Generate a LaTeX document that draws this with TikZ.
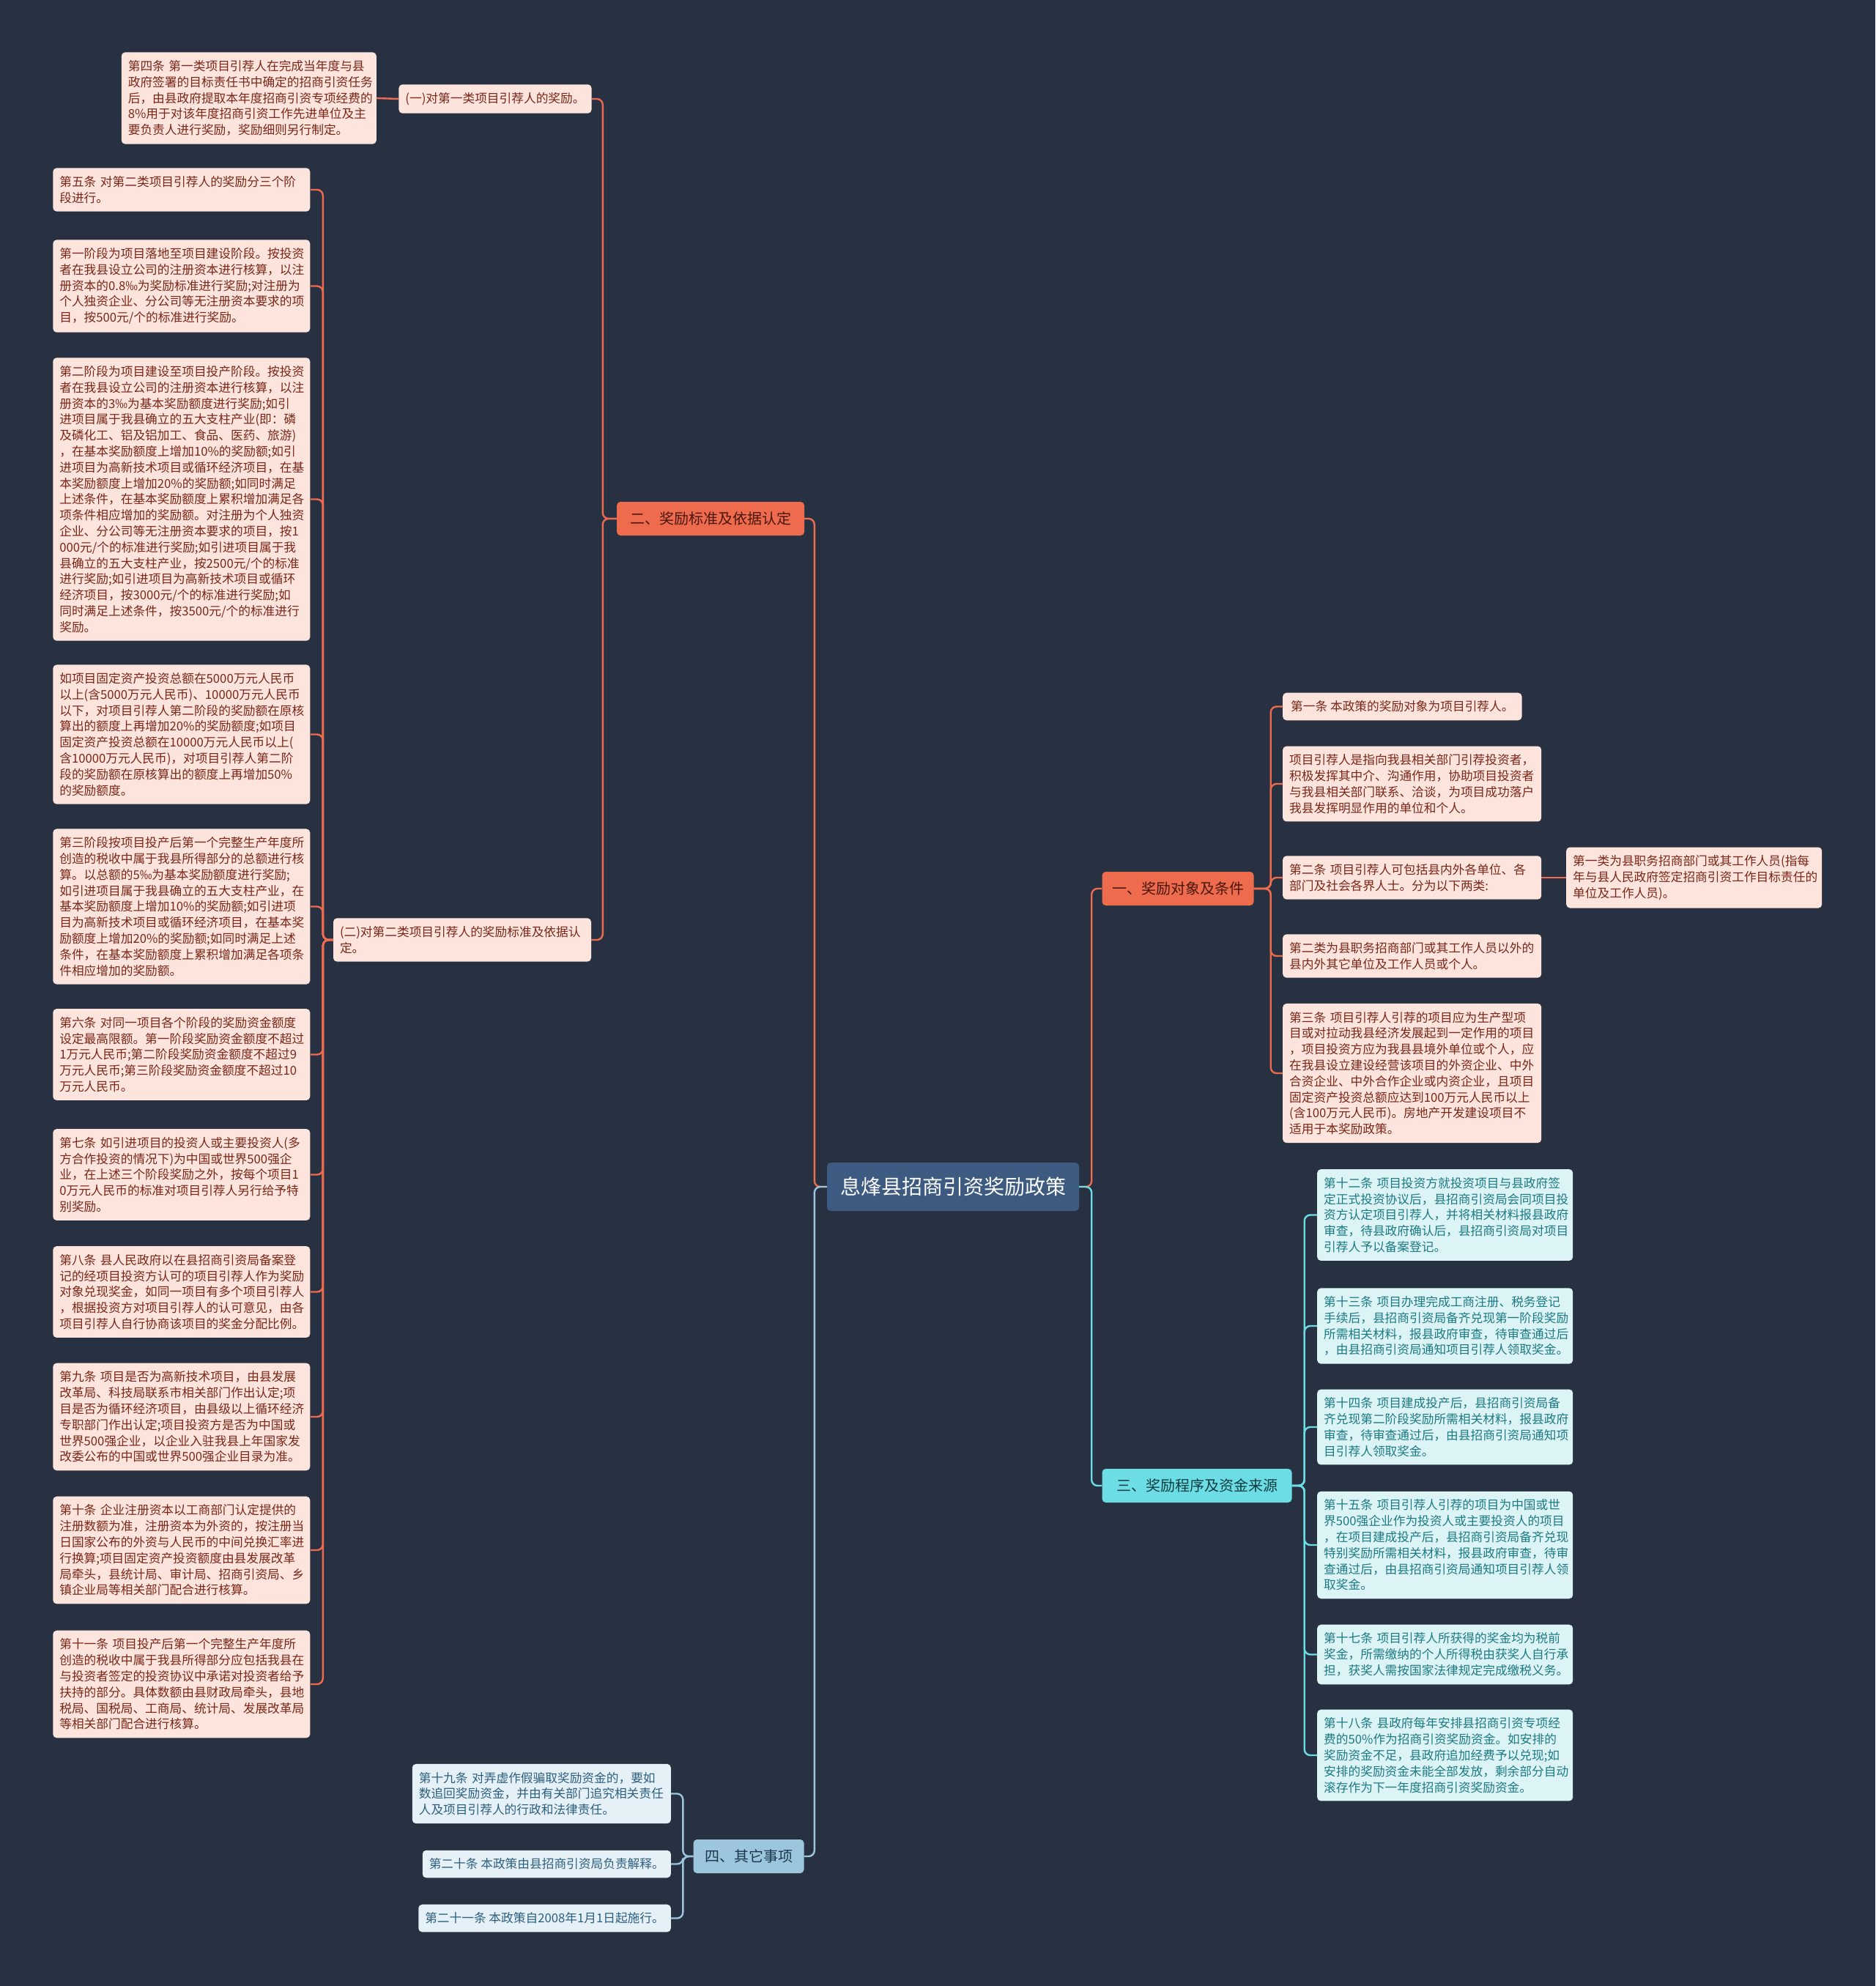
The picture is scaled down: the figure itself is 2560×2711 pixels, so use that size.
\documentclass[tikz,border=0pt]{standalone}
\usepackage{fontspec}
\setmainfont{Noto Sans CJK SC}
\definecolor{zsBg}{HTML}{283142}
\definecolor{zsRoot}{HTML}{3D5A80}
\definecolor{zsOrange}{HTML}{EE6B4D}
\definecolor{zsCyan}{HTML}{6CDDE5}
\definecolor{zsBlue}{HTML}{9CC5DE}
\definecolor{zsLeafO}{HTML}{FDE4DD}
\definecolor{zsLeafC}{HTML}{DDF4F6}
\definecolor{zsLeafB}{HTML}{E6F1F7}
\definecolor{zsTxtO}{HTML}{7A2618}
\definecolor{zsTxtC}{HTML}{1B7A82}
\definecolor{zsTxtB}{HTML}{2C5F7E}
\begin{document}
\begin{tikzpicture}[x=1pt, y=-1pt,
  every node/.style={font=\fontsize{16.7}{21.8}\selectfont},
  leaf/.style={rounded corners=5pt, inner xsep=9pt, inner ysep=11pt, align=left},
  leafO/.style={leaf, fill=zsLeafO, text=zsTxtO},
  leafC/.style={leaf, fill=zsLeafC, text=zsTxtC},
  leafB/.style={leaf, fill=zsLeafB, text=zsTxtB},
  leafL/.style={leafO, text width=333pt, anchor=east},
  branch/.style={rounded corners=5pt, minimum height=46pt, inner xsep=0pt, font=\fontsize{20}{24}\selectfont},
  link/.style={line width=2.4pt, rounded corners=8pt}
]
  \useasboundingbox (0,0) rectangle (2560,2711);
  \fill[zsBg] (0,0) rectangle (2560,2711);

  % root and main branches
  \node[fill=zsRoot, text=white, rounded corners=5pt, minimum width=344pt, minimum height=66pt,
        font=\fontsize{28}{34}\selectfont] (root) at (1301,1620) {息烽县招商引资奖励政策};
  \node[branch, fill=zsOrange, text=zsTxtO!60!black, minimum width=256pt] (b2) at (970,708) {二、奖励标准及依据认定};
  \node[branch, fill=zsOrange, text=zsTxtO!60!black, minimum width=207pt] (b1) at (1608,1213) {一、奖励对象及条件};
  \node[branch, fill=zsCyan, text=zsTxtC!50!black, minimum width=259pt] (b3) at (1634,2028) {三、奖励程序及资金来源};
  \node[branch, fill=zsBlue, text=zsTxtB!60!black, minimum width=151pt] (b4) at (1022,2534) {四、其它事项};

  % branch two
  \node[leafO] (s1) at (676,135) {(一)对第一类项目引荐人的奖励。};
  \node[leafO, text width=330pt, anchor=east] (r4) at (514,134)
    {第四条 第一类项目引荐人在完成当年度与县\\政府签署的目标责任书中确定的招商引资任务\\后，由县政府提取本年度招商引资专项经费的\\8\%用于对该年度招商引资工作先进单位及主\\要负责人进行奖励，奖励细则另行制定。};
  \node[leafO, text width=334pt] (s2) at (631,1283)
    {(二)对第二类项目引荐人的奖励标准及依据认\\定。};

  \node[leafL] (l1) at (423.5,259) {第五条 对第二类项目引荐人的奖励分三个阶\\段进行。};
  \node[leafL] (l2) at (423.5,390.5)
    {第一阶段为项目落地至项目建设阶段。按投资\\者在我县设立公司的注册资本进行核算，以注\\册资本的0.8‰为奖励标准进行奖励;对注册为\\个人独资企业、分公司等无注册资本要求的项\\目，按500元/个的标准进行奖励。};
  \node[leafL] (l3) at (423.5,681.5)
    {第二阶段为项目建设至项目投产阶段。按投资\\者在我县设立公司的注册资本进行核算，以注\\册资本的3‰为基本奖励额度进行奖励;如引\\进项目属于我县确立的五大支柱产业(即：磷\\及磷化工、铝及铝加工、食品、医药、旅游)\\，在基本奖励额度上增加10\%的奖励额;如引\\进项目为高新技术项目或循环经济项目，在基\\本奖励额度上增加20\%的奖励额;如同时满足\\上述条件，在基本奖励额度上累积增加满足各\\项条件相应增加的奖励额。对注册为个人独资\\企业、分公司等无注册资本要求的项目，按1\\000元/个的标准进行奖励;如引进项目属于我\\县确立的五大支柱产业，按2500元/个的标准\\进行奖励;如引进项目为高新技术项目或循环\\经济项目，按3000元/个的标准进行奖励;如\\同时满足上述条件，按3500元/个的标准进行\\奖励。};
  \node[leafL] (l4) at (423.5,1002.5)
    {如项目固定资产投资总额在5000万元人民币\\以上(含5000万元人民币)、10000万元人民币\\以下，对项目引荐人第二阶段的奖励额在原核\\算出的额度上再增加20\%的奖励额度;如项目\\固定资产投资总额在10000万元人民币以上(\\含10000万元人民币)，对项目引荐人第二阶\\段的奖励额在原核算出的额度上再增加50\%\\的奖励额度。};
  \node[leafL] (l5) at (423.5,1237.5)
    {第三阶段按项目投产后第一个完整生产年度所\\创造的税收中属于我县所得部分的总额进行核\\算。以总额的5‰为基本奖励额度进行奖励;\\如引进项目属于我县确立的五大支柱产业，在\\基本奖励额度上增加10\%的奖励额;如引进项\\目为高新技术项目或循环经济项目，在基本奖\\励额度上增加20\%的奖励额;如同时满足上述\\条件，在基本奖励额度上累积增加满足各项条\\件相应增加的奖励额。};
  \node[leafL] (l6) at (423.5,1439.5)
    {第六条 对同一项目各个阶段的奖励资金额度\\设定最高限额。第一阶段奖励资金额度不超过\\1万元人民币;第二阶段奖励资金额度不超过9\\万元人民币;第三阶段奖励资金额度不超过10\\万元人民币。};
  \node[leafL] (l7) at (423.5,1603.5)
    {第七条 如引进项目的投资人或主要投资人(多\\方合作投资的情况下)为中国或世界500强企\\业，在上述三个阶段奖励之外，按每个项目1\\0万元人民币的标准对项目引荐人另行给予特\\别奖励。};
  \node[leafL] (l8) at (423.5,1763.5)
    {第八条 县人民政府以在县招商引资局备案登\\记的经项目投资方认可的项目引荐人作为奖励\\对象兑现奖金，如同一项目有多个项目引荐人\\，根据投资方对项目引荐人的认可意见，由各\\项目引荐人自行协商该项目的奖金分配比例。};
  \node[leafL] (l9) at (423.5,1934)
    {第九条 项目是否为高新技术项目，由县发展\\改革局、科技局联系市相关部门作出认定;项\\目是否为循环经济项目，由县级以上循环经济\\专职部门作出认定;项目投资方是否为中国或\\世界500强企业，以企业入驻我县上年国家发\\改委公布的中国或世界500强企业目录为准。};
  \node[leafL] (l10) at (423.5,2116)
    {第十条 企业注册资本以工商部门认定提供的\\注册数额为准，注册资本为外资的，按注册当\\日国家公布的外资与人民币的中间兑换汇率进\\行换算;项目固定资产投资额度由县发展改革\\局牵头，县统计局、审计局、招商引资局、乡\\镇企业局等相关部门配合进行核算。};
  \node[leafL] (l11) at (423.5,2299)
    {第十一条 项目投产后第一个完整生产年度所\\创造的税收中属于我县所得部分应包括我县在\\与投资者签定的投资协议中承诺对投资者给予\\扶持的部分。具体数额由县财政局牵头，县地\\税局、国税局、工商局、统计局、发展改革局\\等相关部门配合进行核算。};

  % branch one
  \node[leafO, anchor=west, inner xsep=11pt] (a1) at (1751,964.5) {第一条 本政策的奖励对象为项目引荐人。};
  \node[leafO, text width=335pt, anchor=west] (a2) at (1751,1070)
    {项目引荐人是指向我县相关部门引荐投资者，\\积极发挥其中介、沟通作用，协助项目投资者\\与我县相关部门联系、洽谈，为项目成功落户\\我县发挥明显作用的单位和个人。};
  \node[leafO, text width=335pt, anchor=west] (a3) at (1751,1198)
    {第二条 项目引荐人可包括县内外各单位、各\\部门及社会各界人士。分为以下两类:};
  \node[leafO, text width=331pt, anchor=west] (a6) at (2138,1198)
    {第一类为县职务招商部门或其工作人员(指每\\年与县人民政府签定招商引资工作目标责任的\\单位及工作人员)。};
  \node[leafO, text width=335pt, anchor=west] (a4) at (1751,1305)
    {第二类为县职务招商部门或其工作人员以外的\\县内外其它单位及工作人员或个人。};
  \node[leafO, text width=335pt, anchor=west] (a5) at (1751,1465)
    {第三条 项目引荐人引荐的项目应为生产型项\\目或对拉动我县经济发展起到一定作用的项目\\，项目投资方应为我县县境外单位或个人，应\\在我县设立建设经营该项目的外资企业、中外\\合资企业、中外合作企业或内资企业，且项目\\固定资产投资总额应达到100万元人民币以上\\(含100万元人民币)。房地产开发建设项目不\\适用于本奖励政策。};

  % branch three
  \node[leafC, text width=331pt, anchor=west] (c1) at (1798,1658.5)
    {第十二条 项目投资方就投资项目与县政府签\\定正式投资协议后，县招商引资局会同项目投\\资方认定项目引荐人，并将相关材料报县政府\\审查，待县政府确认后，县招商引资局对项目\\引荐人予以备案登记。};
  \node[leafC, text width=331pt, anchor=west] (c2) at (1798,1810)
    {第十三条 项目办理完成工商注册、税务登记\\手续后，县招商引资局备齐兑现第一阶段奖励\\所需相关材料，报县政府审查，待审查通过后\\，由县招商引资局通知项目引荐人领取奖金。};
  \node[leafC, text width=331pt, anchor=west] (c3) at (1798,1948)
    {第十四条 项目建成投产后，县招商引资局备\\齐兑现第二阶段奖励所需相关材料，报县政府\\审查，待审查通过后，由县招商引资局通知项\\目引荐人领取奖金。};
  \node[leafC, text width=331pt, anchor=west] (c4) at (1798,2109)
    {第十五条 项目引荐人引荐的项目为中国或世\\界500强企业作为投资人或主要投资人的项目\\，在项目建成投产后，县招商引资局备齐兑现\\特别奖励所需相关材料，报县政府审查，待审\\查通过后，由县招商引资局通知项目引荐人领\\取奖金。};
  \node[leafC, text width=331pt, anchor=west] (c5) at (1798,2258.5)
    {第十七条 项目引荐人所获得的奖金均为税前\\奖金，所需缴纳的个人所得税由获奖人自行承\\担，获奖人需按国家法律规定完成缴税义务。};
  \node[leafC, text width=331pt, anchor=west] (c6) at (1798,2396)
    {第十八条 县政府每年安排县招商引资专项经\\费的50\%作为招商引资奖励资金。如安排的\\奖励资金不足，县政府追加经费予以兑现;如\\安排的奖励资金未能全部发放，剩余部分自动\\滚存作为下一年度招商引资奖励资金。};

  % branch four
  \node[leafB, text width=335pt, anchor=east] (d1) at (916,2448.5)
    {第十九条 对弄虚作假骗取奖励资金的，要如\\数追回奖励资金，并由有关部门追究相关责任\\人及项目引荐人的行政和法律责任。};
  \node[leafB, anchor=east] (d2) at (916,2544.5) {第二十条 本政策由县招商引资局负责解释。};
  \node[leafB, anchor=east] (d3) at (916,2618.5) {第二十一条 本政策自2008年1月1日起施行。};

  % connectors
  \draw[link, zsOrange] (root.west) -- ++(-17,0) |- (b2.east);
  \draw[link, zsBlue] (root.west) -- ++(-17,0) |- (b4.east);
  \draw[link, zsOrange] (root.east) -- ++(17,0) |- (b1.west);
  \draw[link, zsCyan] (root.east) -- ++(17,0) |- (b3.west);
  \foreach \c in {s1,s2}
    \draw[link, zsOrange] (b2.west) -- ++(-19,0) |- (\c.east);
  \draw[link, zsOrange] (s1.west) -- (r4.east);
  \foreach \c in {l1,l2,l3,l4,l5,l6,l7,l8,l9,l10,l11}
    \draw[link, zsOrange] (s2.west) -- ++(-14,0) |- (\c.east);
  \foreach \c in {a1,a2,a3,a4,a5}
    \draw[link, zsOrange] (b1.east) -- ++(23,0) |- (\c.west);
  \draw[link, zsOrange] (a3.east) -- (a6.west);
  \foreach \c in {c1,c2,c3,c4,c5,c6}
    \draw[link, zsCyan] (b3.east) -- ++(17,0) |- (\c.west);
  \foreach \c in {d1,d2,d3}
    \draw[link, zsBlue] (b4.west) -- ++(-14,0) |- (\c.east);
\end{tikzpicture}
\end{document}
